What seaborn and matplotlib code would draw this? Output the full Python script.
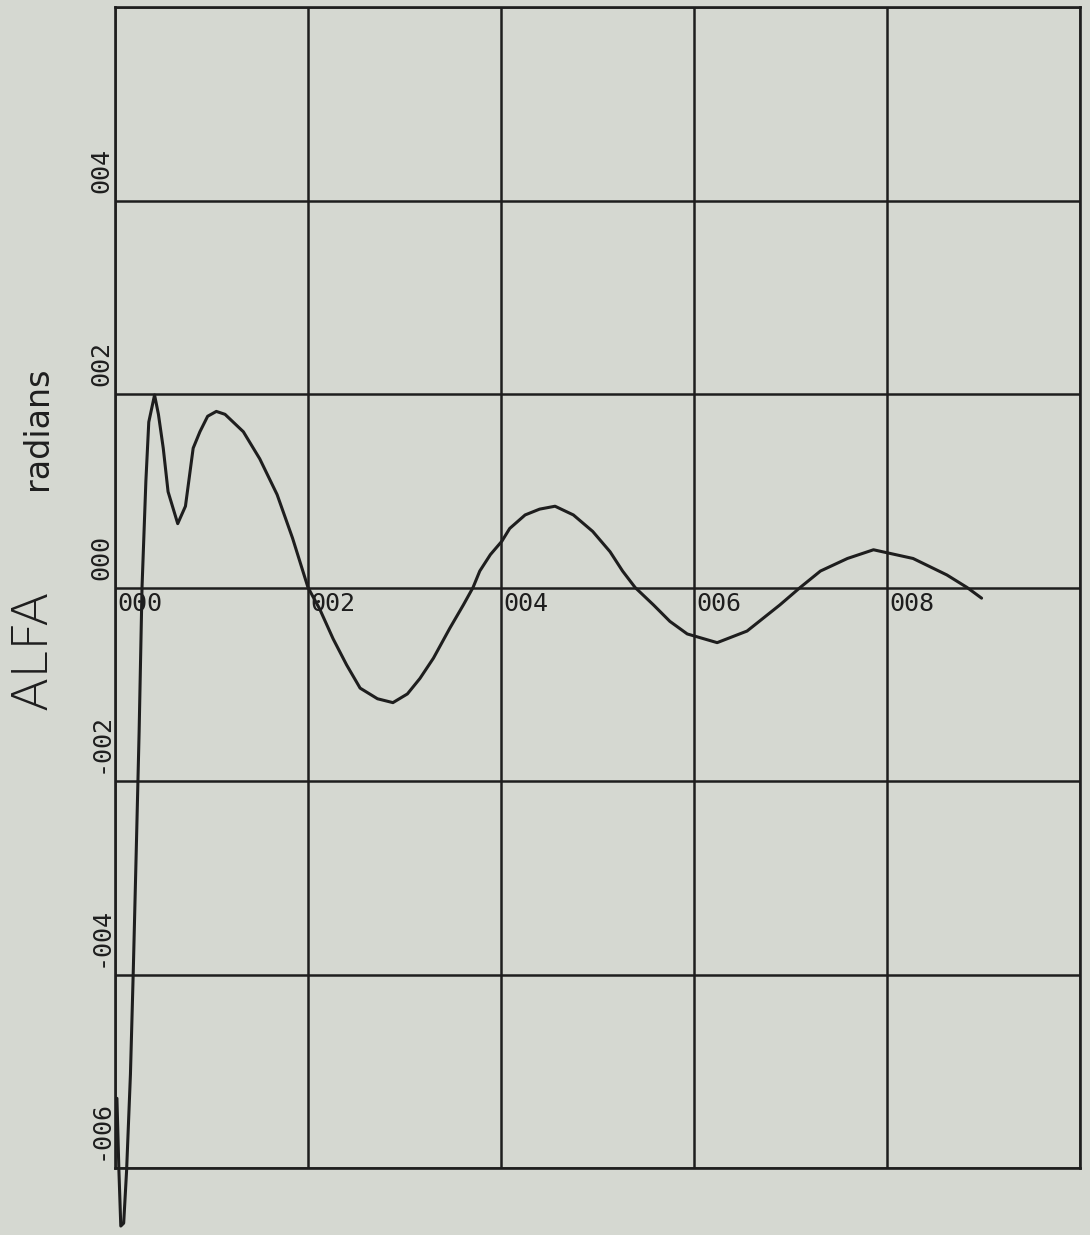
import matplotlib
matplotlib.use("Agg")
import matplotlib.pyplot as plt
import matplotlib.transforms as mtransforms
import seaborn as sns
import pandas as pd

# ---- data ----
time = [0.02, 0.04, 0.06, 0.09, 0.12, 0.16, 0.19, 0.22, 0.25, 0.28,
        0.32, 0.35, 0.41, 0.45, 0.50, 0.55, 0.65, 0.73, 0.81, 0.88,
        0.96, 1.05, 1.14, 1.33, 1.50, 1.68, 1.84, 2.00, 2.12, 2.26,
        2.40, 2.54, 2.72, 2.88, 3.03, 3.16, 3.30, 3.47, 3.61, 3.71,
        3.78, 3.89, 4.01, 4.09, 4.25, 4.40, 4.56, 4.75, 4.95, 5.13,
        5.26, 5.39, 5.58, 5.75, 5.93, 6.24, 6.55, 6.89, 7.10, 7.31,
        7.59, 7.86, 8.27, 8.62, 8.83, 8.98]
alfa = [-5.28, -6.01, -6.60, -6.57, -6.03, -5.03, -3.94, -2.73, -1.49, 0.00,
        1.10, 1.71, 1.99, 1.79, 1.44, 0.99, 0.66, 0.84, 1.44, 1.61,
        1.77, 1.82, 1.79, 1.61, 1.33, 0.96, 0.51, 0.00, -0.22, -0.53,
        -0.80, -1.04, -1.15, -1.19, -1.10, -0.94, -0.73, -0.42, -0.18, 0.00,
        0.17, 0.34, 0.48, 0.61, 0.75, 0.81, 0.84, 0.75, 0.58, 0.37,
        0.17, 0.00, -0.18, -0.35, -0.48, -0.57, -0.45, -0.18, 0.00, 0.17,
        0.30, 0.39, 0.30, 0.13, 0.00, -0.11]
x_ticks = [0, 2, 4, 6, 8]
x_tick_labels = ["000", "002", "004", "006", "008"]
y_ticks = [-6, -4, -2, 0, 2, 4]
y_tick_labels = ["-006", "-004", "-002", "000", "002", "004"]

bg = "#d5d8d1"
ink = "#1e1e1e"

sns.set_theme(style="white")
plt.rcParams["font.family"] = ["DejaVu Sans"]

fig = plt.figure(figsize=(10.9, 12.35), dpi=100, facecolor=bg)
ax = fig.add_axes([115 / 1090, 1 - 1168 / 1235, (1080 - 115) / 1090, (1168 - 7) / 1235])
ax.set_facecolor(bg)

df = pd.DataFrame({"time": time, "alfa": alfa})
sns.lineplot(data=df, x="time", y="alfa", sort=False, estimator=None,
             color=ink, linewidth=2.2, clip_on=False, ax=ax, zorder=5,
             solid_joinstyle="round", solid_capstyle="round")

ax.set_xlim(0, 10)
ax.set_ylim(-6, 6)
for s in ax.spines.values():
    s.set_color(ink)
    s.set_linewidth(1.9)

# grid
for gx in range(0, 11, 2):
    ax.axvline(gx, color=ink, linewidth=1.8, zorder=2)
for gy in range(-6, 7, 2):
    ax.axhline(gy, color=ink, linewidth=1.8, zorder=2)

ax.set_xticks([])
ax.set_yticks([])
ax.set_xlabel("")
ax.set_ylabel("")

mono = "DejaVu Sans Mono"
for xv, lab in zip(x_ticks, x_tick_labels):
    ax.text(xv + 0.02, -0.05, lab, ha="left", va="top", fontsize=18,
            family=mono, color=ink, zorder=6)

trans = mtransforms.blended_transform_factory(fig.transFigure, ax.transData)
for yv, lab in zip(y_ticks, y_tick_labels):
    ax.text(101 / 1090, yv + 0.08, lab, ha="center", va="bottom", rotation=90,
            fontsize=18, family=mono, color=ink, transform=trans)

fig.text(33 / 1090, 1 - 650 / 1235, "ALFA", rotation=90, ha="center", va="center",
         fontsize=36, fontweight="light", color=ink)
fig.text(37 / 1090, 1 - 428 / 1235, "radians", rotation=90, ha="center", va="center",
         fontsize=24, color=ink)

fig.savefig("out.png", dpi=100, facecolor=bg)
